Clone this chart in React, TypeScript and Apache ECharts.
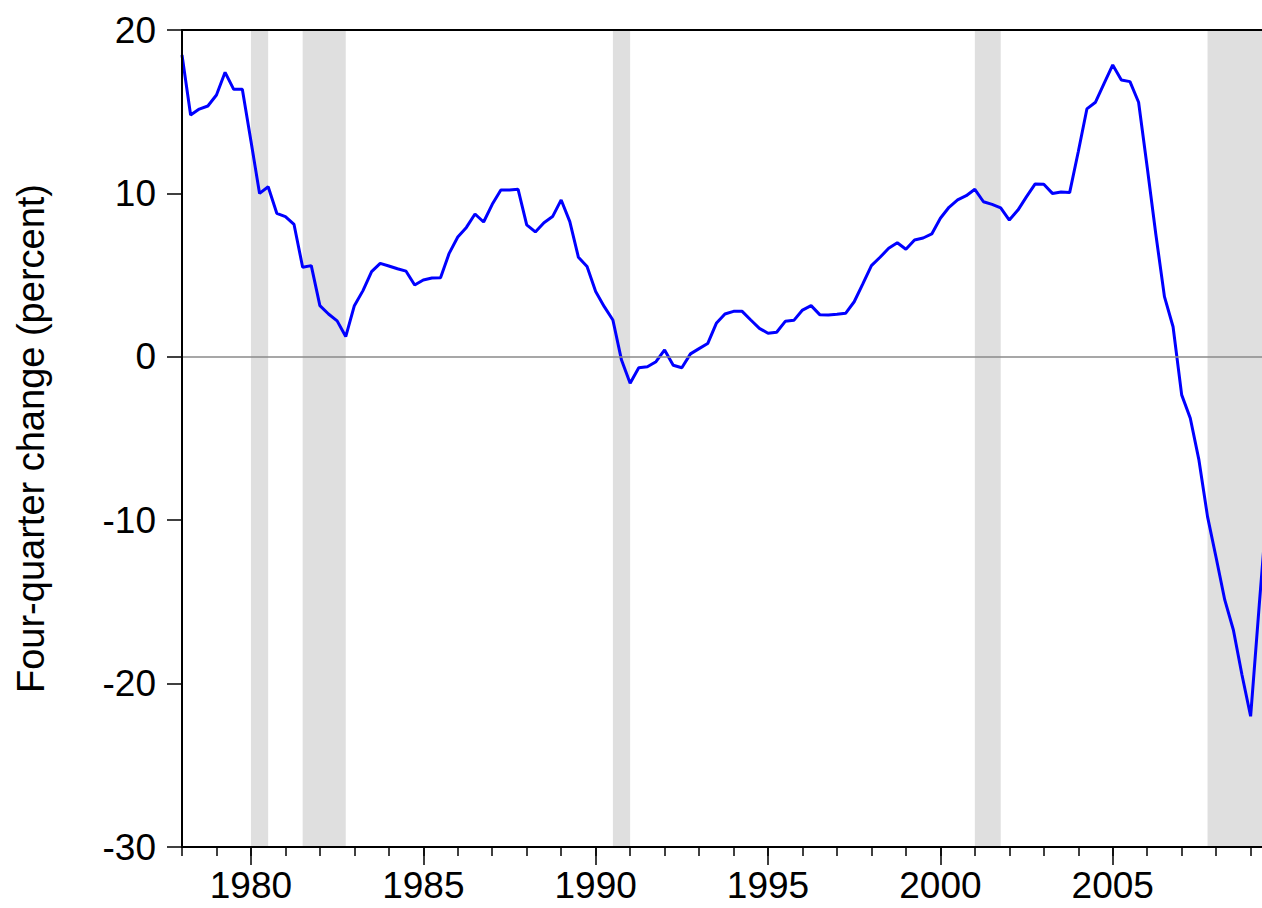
import { useEffect, useRef } from "react"
import * as echarts from "echarts"

// quarterly four-quarter change, 1978Q1 .. 2009Q3 (last one only shows as the cut-off segment)
const startYear = 1978
const values = [
  18.47, 14.8, 15.16, 15.35, 16.02, 17.41, 16.37, 16.37,
  13.2, 10.0, 10.41, 8.78, 8.58, 8.1, 5.48, 5.58,
  3.13, 2.62, 2.2, 1.24, 3.13, 4.05, 5.21, 5.72,
  5.56, 5.39, 5.24, 4.39, 4.7, 4.82, 4.84, 6.33,
  7.33, 7.92, 8.74, 8.25, 9.33, 10.21, 10.21, 10.25,
  8.07, 7.64, 8.21, 8.58, 9.6, 8.27, 6.09, 5.52,
  3.99, 3.07, 2.25, -0.2, -1.62, -0.67, -0.61, -0.3,
  0.42, -0.52, -0.67, 0.18, 0.5, 0.81, 2.05, 2.62,
  2.78, 2.78, 2.25, 1.74, 1.44, 1.5, 2.17, 2.23,
  2.86, 3.13, 2.58, 2.56, 2.6, 2.66, 3.37, 4.46,
  5.58, 6.09, 6.64, 6.98, 6.58, 7.15, 7.27, 7.52,
  8.48, 9.15, 9.6, 9.86, 10.25, 9.49, 9.33, 9.12,
  8.37, 8.98, 9.8, 10.58, 10.56, 10.0, 10.09, 10.05,
  12.55, 15.17, 15.58, 16.74, 17.86, 16.94, 16.84, 15.58,
  11.6, 7.5, 3.68, 1.84, -2.33, -3.76, -6.31, -9.78,
  -12.3, -14.88, -16.72, -19.47, -22.0, -15.2, -8.6,
]

// recession periods (shaded)
const recessions = [
  [1980.0, 1980.5],
  [1981.5, 1982.75],
  [1990.5, 1991.0],
  [2001.0, 2001.75],
  [2007.75, 2009.5],
]

const minorTicks = Array.from({ length: 32 }, (_, i) => 1978 + i)
const majorTicks = [1980, 1985, 1990, 1995, 2000, 2005]
const yTicks = [-30, -20, -10, 0, 10, 20]

const xMin = 1978
const xMax = 2009.33
const font = "'Liberation Sans', Arial, Helvetica, sans-serif"

export default function App() {
  const chartRef = useRef<HTMLDivElement>(null)

  useEffect(() => {
    if (!chartRef.current) return
    const chart = echarts.init(chartRef.current, null, { renderer: "svg" })

    const points = values.map((v, i) => [startYear + i / 4, v])

    const option = {
      animation: false,
      backgroundColor: "#ffffff",
      grid: { left: 182, right: 0, top: 30, bottom: 61, containLabel: false },
      xAxis: [
        {
          type: "value",
          position: "bottom",
          min: xMin,
          max: xMax,
          z: 10,
          splitLine: { show: false },
          axisLine: { show: true, onZero: false, lineStyle: { color: "#000", width: 2 } },
          axisTick: {
            show: true,
            customValues: minorTicks,
            length: 9,
            lineStyle: { color: "#000", width: 1.5 },
          },
          axisLabel: {
            customValues: majorTicks,
            formatter: (v: number) => String(v),
            color: "#000",
            fontSize: 37,
            fontFamily: font,
            margin: 20,
          },
        },
        {
          type: "value",
          position: "bottom",
          min: xMin,
          max: xMax,
          z: 10,
          splitLine: { show: false },
          axisLine: { show: false, onZero: false },
          axisTick: {
            show: true,
            customValues: majorTicks,
            length: 18,
            lineStyle: { color: "#000", width: 1.5 },
          },
          axisLabel: { show: false },
        },
        {
          type: "value",
          position: "top",
          min: xMin,
          max: xMax,
          z: 10,
          splitLine: { show: false },
          axisLine: { show: true, onZero: false, lineStyle: { color: "#000", width: 2 } },
          axisTick: { show: false },
          axisLabel: { show: false },
        },
      ],
      yAxis: {
        type: "value",
        min: yTicks[0],
        max: yTicks[yTicks.length - 1],
        interval: 10,
        z: 10,
        name: "Four-quarter change (percent)",
        nameLocation: "middle",
        nameGap: 132,
        nameTextStyle: { color: "#000", fontSize: 38, fontFamily: font },
        splitLine: { show: false },
        axisLine: { show: true, onZero: false, lineStyle: { color: "#000", width: 2 } },
        axisTick: { show: true, length: 15, lineStyle: { color: "#000", width: 1.5 } },
        axisLabel: { color: "#000", fontSize: 37, fontFamily: font, margin: 26 },
      },
      series: [
        {
          type: "line",
          data: [],
          z: 1,
          silent: true,
          markArea: {
            silent: true,
            itemStyle: { color: "#dfdfdf" },
            data: recessions.map(([a, b]) => [{ xAxis: a }, { xAxis: Math.min(b, xMax) }]),
          },
        },
        {
          type: "line",
          data: points,
          z: 3,
          showSymbol: false,
          symbol: "none",
          clip: true,
          lineStyle: { color: "#0000ff", width: 3 },
          markLine: {
            silent: true,
            symbol: ["none", "none"],
            label: { show: false },
            lineStyle: { color: "#8a8a8a", width: 1.5, type: "solid" },
            data: [{ yAxis: 0 }],
          },
        },
      ],
    }

    chart.setOption(option)

    return () => {
      chart.dispose()
    }
  }, [])

  return (
    <div
      ref={chartRef}
      style={{ position: "fixed", left: 0, top: 0, width: 1262, height: 908, background: "#fff" }}
    />
  )
}
